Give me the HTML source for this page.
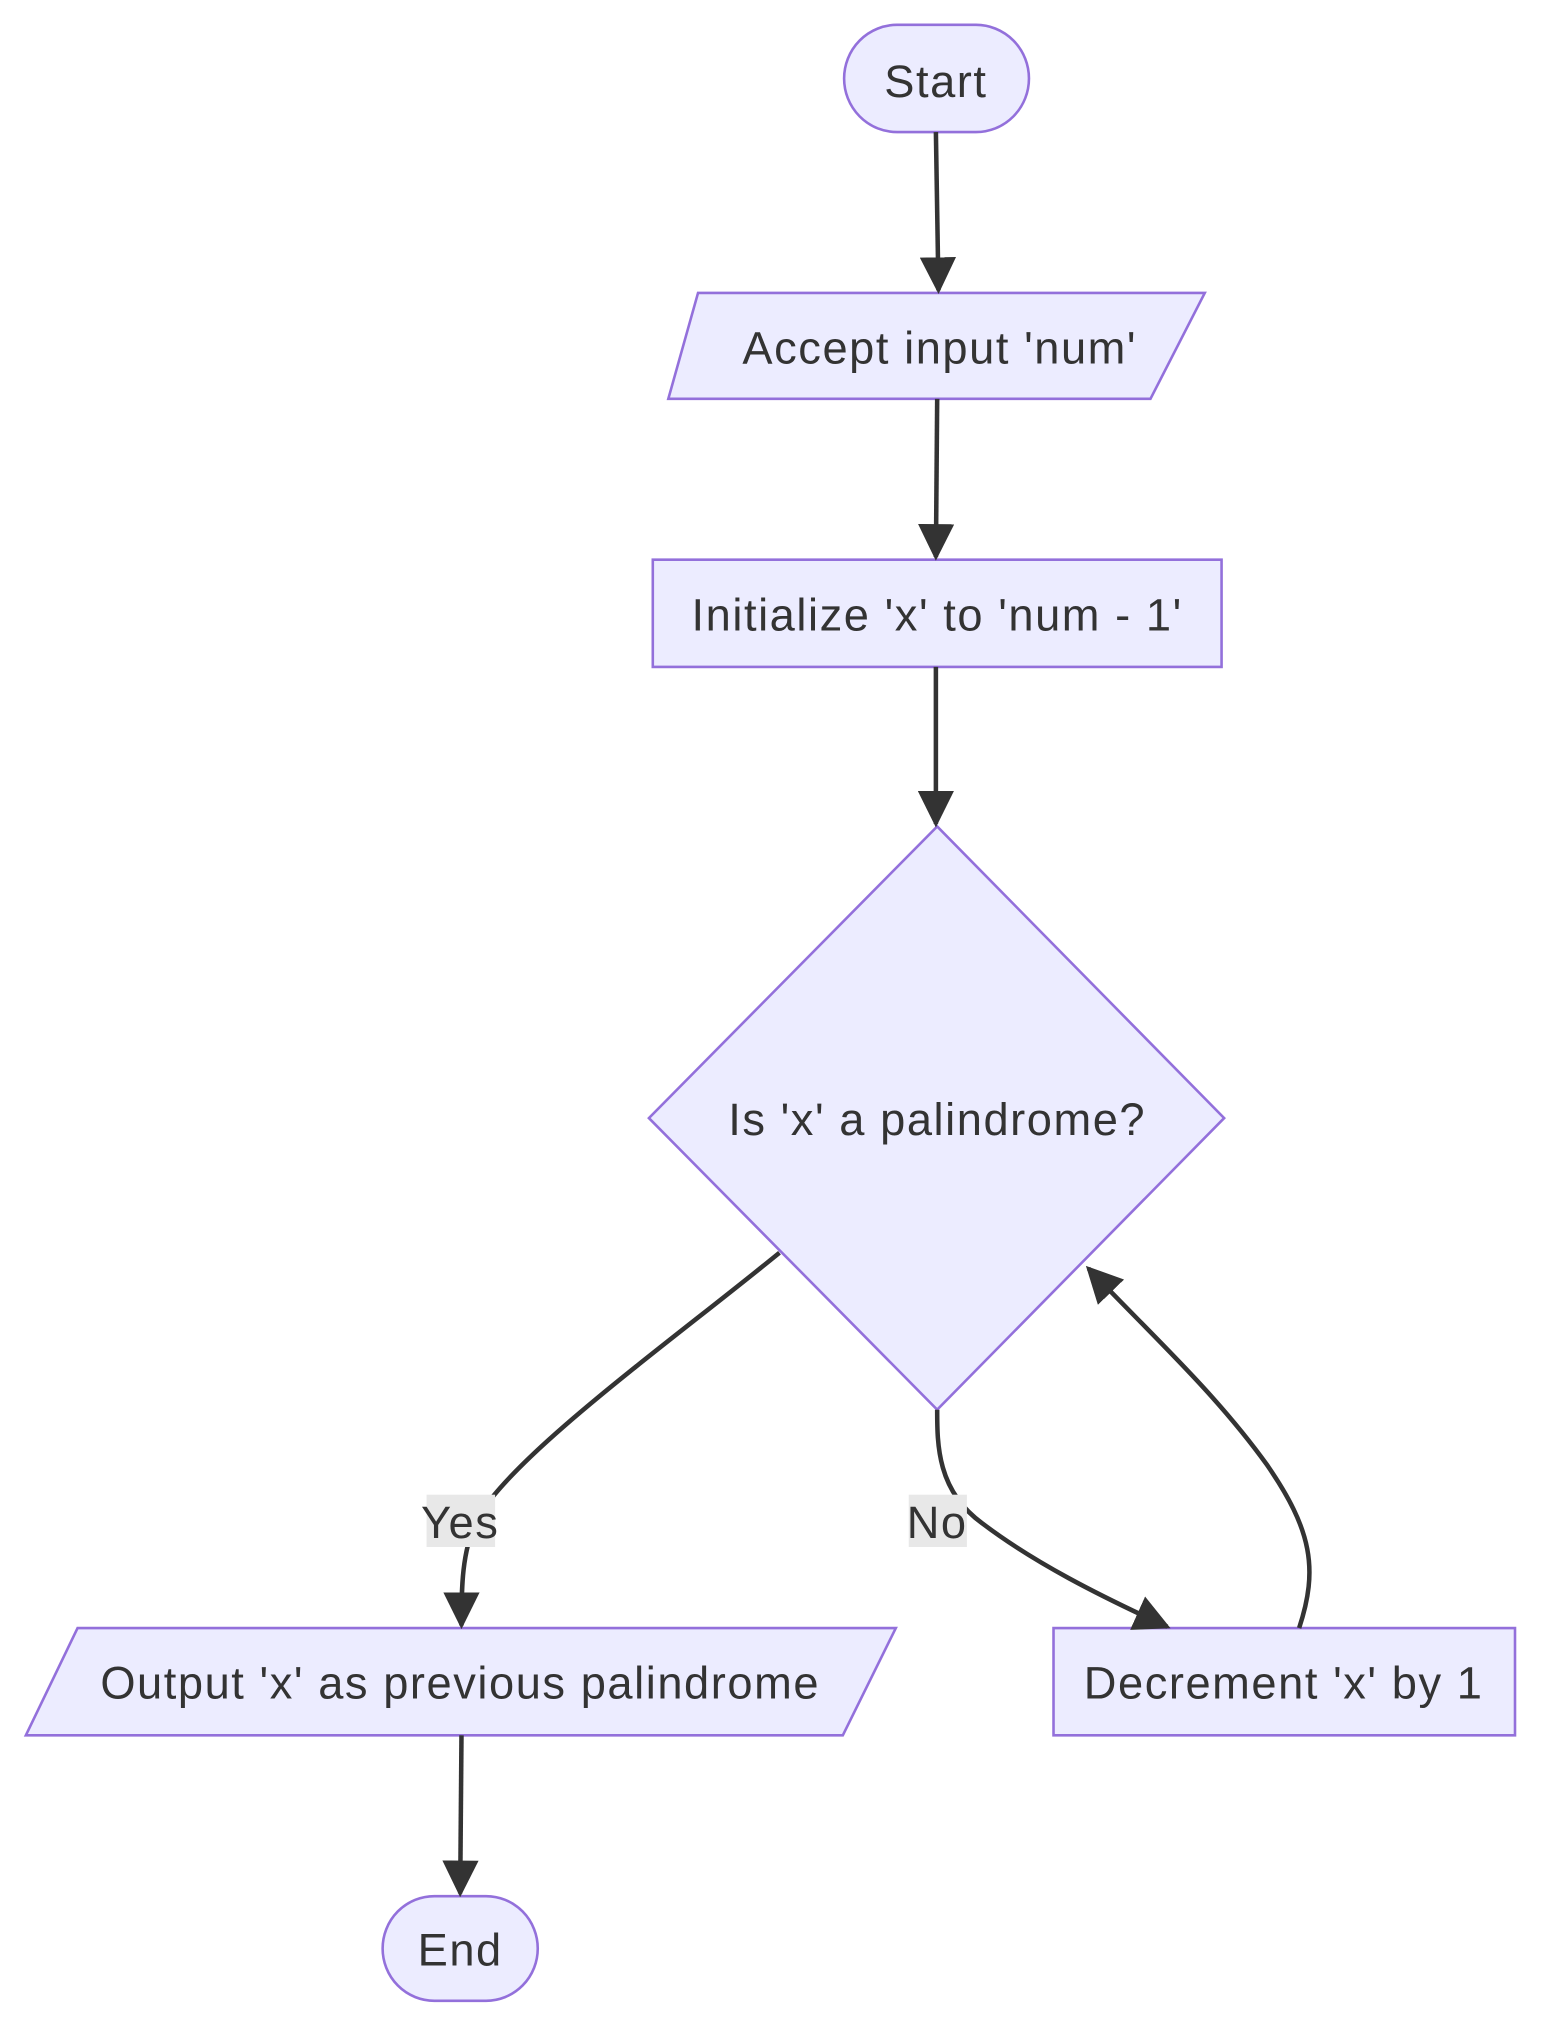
<!DOCTYPE html>
<html><head><style>html,body{margin:0;padding:0;background:#fff}svg{display:block}</style></head>
<body>
<svg width="1568" height="2040" viewBox="0 0 1213 1560" preserveAspectRatio="none" xmlns="http://www.w3.org/2000/svg">
<defs>
<marker id="b" viewBox="0 0 10 10" refX="9" refY="5" markerWidth="28" markerHeight="28" markerUnits="userSpaceOnUse" orient="auto">
<path d="M0,0 L10,5 L0,10 z" fill="#333"/></marker>
</defs>
<g fill="#ECECFF" stroke="#9370DB" stroke-width="2">
<rect x="653" y="19" width="143" height="82" rx="41"/>
<polygon points="540,224 932,224 890,305 517,305"/>
<rect x="505" y="428" width="440" height="82"/>
<polygon points="725,632 947,855 725,1078 502,855"/>
<polygon points="60,1245 693,1245 652,1327 20,1327"/>
<rect x="815" y="1245" width="357" height="82"/>
<rect x="296" y="1450" width="120" height="80" rx="40"/>
</g>
<g fill="none" stroke="#333" stroke-width="3.5" marker-end="url(#b)">
<path d="M724,101 L726,222"/>
<path d="M725,305 L724,426"/>
<path d="M724,510 L724,630"/>
<path d="M603,958 C520,1025 400,1110 370,1160 C357,1185 357,1215 357,1243"/>
<path d="M725,1078 C725,1105 725,1140 760,1165 C800,1195 850,1220 903,1244"/>
<path d="M1005,1245 C1020,1200 1015,1170 980,1120 C940,1065 890,1020 842,970"/>
<path d="M357,1327 L356,1448"/>
</g>
<rect x="330" y="1143" width="53" height="40" fill="#e8e8e8"/>
<rect x="703" y="1143" width="45" height="40" fill="#e8e8e8"/>
<g font-family="'Liberation Sans', 'DejaVu Sans', sans-serif" font-size="35" letter-spacing="1.2" fill="#333" text-anchor="middle">
<text x="724" y="74">Start</text>
<text x="727" y="278">Accept input 'num'</text>
<text x="725" y="482">Initialize 'x' to 'num - 1'</text>
<text x="725" y="868">Is 'x' a palindrome?</text>
<text x="356" y="1299">Output 'x' as previous palindrome</text>
<text x="993" y="1299">Decrement 'x' by 1</text>
<text x="356" y="1503">End</text>
<text x="356" y="1176">Yes</text>
<text x="725" y="1176">No</text>
</g>
</svg>
</body></html>
